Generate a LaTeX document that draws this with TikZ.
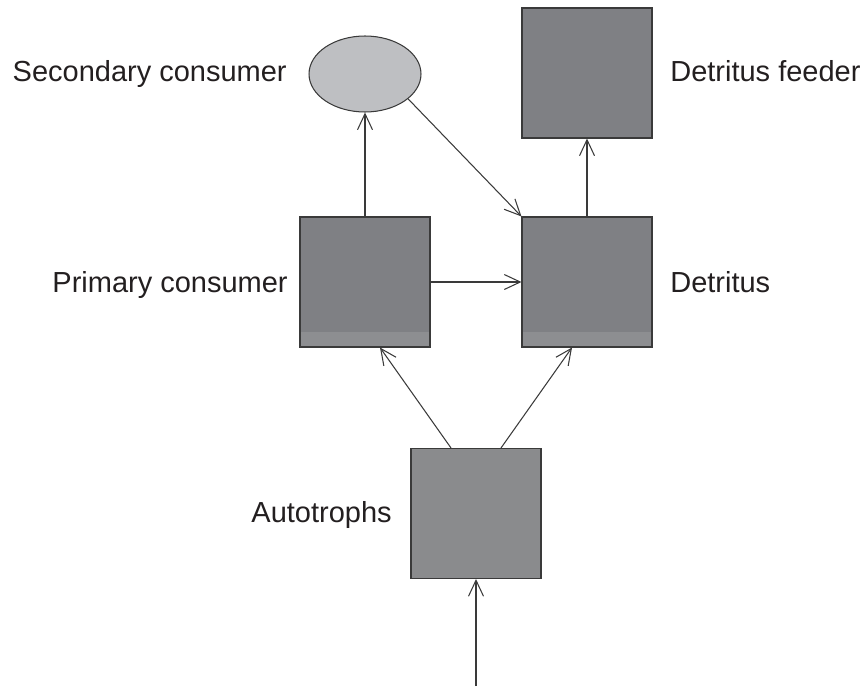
\documentclass[tikz,border=0pt]{standalone}
\usepackage{fontspec}
\setmainfont{Liberation Sans}
\usetikzlibrary{arrows.meta,shapes.geometric}
\definecolor{boxgray}{HTML}{7F8084}
\definecolor{stripgray}{HTML}{8D8E91}
\definecolor{autogray}{HTML}{8A8B8D}
\definecolor{ovalgray}{HTML}{BEBFC2}
\definecolor{edgegray}{HTML}{3A3A3A}
\definecolor{textgray}{HTML}{231F20}
\tikzset{
  plainbox/.style={draw=edgegray, fill=boxgray, line width=.6pt, minimum size=2.6cm, inner sep=0pt},
  box/.style={plainbox,
    path picture={\fill[stripgray] ([yshift=.3cm]path picture bounding box.south west) rectangle (path picture bounding box.south east);}},
  autobox/.style={plainbox, fill=autogray},
  oval/.style={ellipse, draw=edgegray, fill=ovalgray, line width=.6pt, minimum width=2.24cm, minimum height=1.52cm, inner sep=0pt},
  lbl/.style={inner sep=0pt, text=textgray, font=\fontsize{16.5}{20}\selectfont},
  flow/.style={draw=edgegray, line width=.6pt, -{Straight Barb[length=3.2mm,width=3mm]}}
}
\begin{document}
\begin{tikzpicture}[x=0.02cm, y=-0.02cm]
   \useasboundingbox (0,0) rectangle (864,686);
   \node[oval] (sec) at (365,74) {};
   \node[plainbox] (feed) at (587,73) {};
   \node[box] (prim) at (365,282) {};
   \node[box] (det) at (587,282) {};
   \node[autobox] (auto) at (476,513.5) {};
   \coordinate (src) at (476,686);
   \node[lbl, anchor=base east] (secl) at (287,82) {Secondary consumer};
   \node[lbl, anchor=base west] (feedl) at (670,82) {Detritus feeder};
   \node[lbl, anchor=base east] (priml) at (288,292) {Primary consumer};
   \node[lbl, anchor=base west] (detl) at (670,292) {Detritus};
   \node[lbl, anchor=base east] (autol) at (392,522) {Autotrophs};
   \draw[flow] (src) -- (auto.south);
   \draw[flow] ([xshift=-.5cm]auto.north) -- ([xshift=.3cm]prim.south);
   \draw[flow] ([xshift=.5cm]auto.north) -- ([xshift=-.3cm]det.south);
   \draw[flow] (prim.east) -- (det.west);
   \draw[flow] (prim.north) -- (sec.south);
   \draw[flow] (sec.-30) -- (det.north west);
   \draw[flow] (det.north) -- (feed.south);
\end{tikzpicture}
\end{document}
